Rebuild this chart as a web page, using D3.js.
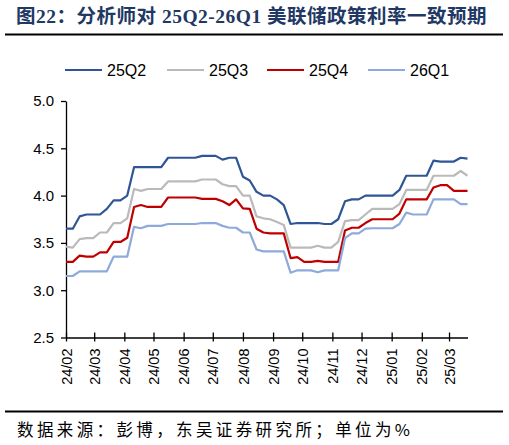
<!DOCTYPE html>
<html>
<head>
<meta charset="utf-8">
<script src="https://cdn.jsdelivr.net/npm/d3@7/dist/d3.min.js"></script>
<style>
  body { margin: 0; background: #fff; }
  svg { display: block; }
</style>
</head>
<body>
<svg id="chart" width="509" height="445"></svg>
<script>
var dates = [
  "2024-02-01", "2024-02-08", "2024-02-15", "2024-02-22", "2024-02-29",
  "2024-03-07", "2024-03-14", "2024-03-21", "2024-03-28",
  "2024-04-04", "2024-04-11", "2024-04-18", "2024-04-25",
  "2024-05-02", "2024-05-09", "2024-05-16", "2024-05-23", "2024-05-30",
  "2024-06-06", "2024-06-13", "2024-06-20", "2024-06-27",
  "2024-07-04", "2024-07-11", "2024-07-18", "2024-07-25",
  "2024-08-01", "2024-08-08", "2024-08-15", "2024-08-22", "2024-08-29",
  "2024-09-05", "2024-09-12", "2024-09-19", "2024-09-26",
  "2024-10-03", "2024-10-10", "2024-10-17", "2024-10-24", "2024-10-31",
  "2024-11-07", "2024-11-14", "2024-11-21", "2024-11-28",
  "2024-12-05", "2024-12-12", "2024-12-19", "2024-12-26",
  "2025-01-02", "2025-01-09", "2025-01-16", "2025-01-23", "2025-01-30",
  "2025-02-06", "2025-02-13", "2025-02-20", "2025-02-27",
  "2025-03-06", "2025-03-13", "2025-03-20"
];

var q2_25 = [
  3.65, 3.65, 3.78, 3.80, 3.80, 3.80, 3.86, 3.95, 3.95, 4.00,
  4.30, 4.30, 4.30, 4.30, 4.30, 4.40, 4.40, 4.40, 4.40, 4.40,
  4.42, 4.42, 4.42, 4.38, 4.40, 4.40, 4.20, 4.16, 4.04, 4.00,
  4.00, 3.96, 3.90, 3.70, 3.71, 3.71, 3.71, 3.71, 3.70, 3.70,
  3.75, 3.94, 3.96, 3.96, 4.00, 4.00, 4.00, 4.00, 4.00, 4.06,
  4.21, 4.21, 4.21, 4.21, 4.37, 4.36, 4.36, 4.36, 4.40, 4.39
];
var q3_25 = [
  3.46, 3.45, 3.54, 3.55, 3.55, 3.61, 3.61, 3.71, 3.71, 3.76,
  4.07, 4.05, 4.07, 4.07, 4.07, 4.15, 4.15, 4.15, 4.15, 4.15,
  4.17, 4.17, 4.17, 4.12, 4.10, 4.10, 4.00, 4.00, 3.78, 3.76,
  3.75, 3.72, 3.69, 3.45, 3.45, 3.45, 3.45, 3.47, 3.45, 3.45,
  3.51, 3.73, 3.74, 3.74, 3.80, 3.86, 3.86, 3.86, 3.86, 3.91,
  4.06, 4.06, 4.06, 4.06, 4.21, 4.21, 4.21, 4.21, 4.26, 4.21
];
var q4_25 = [
  3.30, 3.30, 3.365, 3.355, 3.355, 3.40, 3.40, 3.51, 3.51, 3.555,
  3.88, 3.90, 3.88, 3.88, 3.88, 3.98, 3.98, 3.98, 3.98, 3.98,
  3.965, 3.965, 3.965, 3.94, 3.90, 3.96, 3.865, 3.86, 3.65, 3.61,
  3.60, 3.60, 3.60, 3.34, 3.35, 3.30, 3.30, 3.31, 3.30, 3.30,
  3.30, 3.63, 3.66, 3.66, 3.71, 3.75, 3.75, 3.75, 3.75, 3.81,
  3.96, 3.96, 3.96, 3.96, 4.085, 4.11, 4.11, 4.05, 4.05, 4.05
];
var q1_26 = [
  3.15, 3.15, 3.20, 3.20, 3.20, 3.20, 3.20, 3.355, 3.355, 3.355,
  3.67, 3.655, 3.68, 3.68, 3.68, 3.70, 3.70, 3.70, 3.70, 3.70,
  3.71, 3.71, 3.71, 3.68, 3.66, 3.66, 3.61, 3.61, 3.43, 3.41,
  3.41, 3.41, 3.41, 3.185, 3.21, 3.21, 3.21, 3.19, 3.21, 3.21,
  3.21, 3.55, 3.60, 3.60, 3.65, 3.655, 3.655, 3.655, 3.655, 3.70,
  3.82, 3.80, 3.80, 3.80, 3.96, 3.96, 3.96, 3.96, 3.91, 3.91
];

var seriesNames = ["25Q2", "25Q3", "25Q4", "26Q1"];
var seriesColors = ["#2F5597", "#BABABA", "#C00000", "#8EAADB"];
var yTicks = [2.5, 3.0, 3.5, 4.0, 4.5, 5.0];

var svg = d3.select("#chart");
var parse = d3.timeParse("%Y-%m-%d");
var days = dates.map(parse);
var allSeries = [q2_25, q3_25, q4_25, q1_26];

var x = d3.scaleTime()
  .domain([days[0], days[days.length - 1]])
  .range([66, 467.5]);

var y = d3.scaleLinear()
  .domain([2.5, 5])
  .range([337.5, 101]);

// title + rules
svg.append("text")
  .attr("x", 16).attr("y", 22.5)
  .style("font-family", "'Liberation Serif', 'Noto Sans CJK SC', serif")
  .style("font-weight", "bold")
  .style("font-size", "19.5px")
  .style("letter-spacing", "0.5px")
  .style("fill", "#1F3864")
  .text("图22：分析师对 25Q2-26Q1 美联储政策利率一致预期");

svg.append("line")
  .attr("x1", 5).attr("x2", 503).attr("y1", 34.5).attr("y2", 34.5)
  .attr("stroke", "#000").attr("stroke-width", 2);

svg.append("line")
  .attr("x1", 5).attr("x2", 503).attr("y1", 411.5).attr("y2", 411.5)
  .attr("stroke", "#000").attr("stroke-width", 2);

svg.append("text")
  .attr("x", 17).attr("y", 436)
  .attr("textLength", 393).attr("lengthAdjust", "spacing")
  .style("font-family", "'Noto Sans CJK SC', sans-serif")
  .style("font-size", "16.5px")
  .style("fill", "#000")
  .text("数据来源：彭博，东吴证券研究所；单位为%");

// legend
var legendX = [65, 167, 267, 368];
var legend = svg.append("g");
seriesNames.forEach(function(name, i) {
  legend.append("line")
    .attr("x1", legendX[i]).attr("x2", legendX[i] + 37)
    .attr("y1", 70).attr("y2", 70)
    .attr("stroke", seriesColors[i]).attr("stroke-width", 2.2);
  legend.append("text")
    .attr("x", legendX[i] + 42).attr("y", 75.5)
    .style("font-family", "'Liberation Sans', Arial, sans-serif")
    .style("font-size", "16px")
    .style("fill", "#000")
    .text(name);
});

// axes
var yAxis = d3.axisLeft(y)
  .tickValues(yTicks)
  .tickFormat(d3.format(".1f"))
  .tickSizeOuter(0)
  .tickSizeInner(5)
  .tickPadding(7);

var gy = svg.append("g")
  .attr("transform", "translate(66,0)")
  .call(yAxis);
gy.select(".domain").attr("stroke", "#000").attr("stroke-width", 1.3);
gy.selectAll(".tick line").attr("stroke", "#000").attr("stroke-width", 1.3);
gy.selectAll("text")
  .style("font-family", "'Liberation Sans', Arial, sans-serif")
  .style("font-size", "15px")
  .style("fill", "#000");

var monthTicks = d3.timeMonth.range(new Date(2024, 1, 1), new Date(2025, 2, 2));
var xAxis = d3.axisBottom(x)
  .tickValues(monthTicks)
  .tickFormat(d3.timeFormat("%y/%m"))
  .tickSizeOuter(0)
  .tickSizeInner(0);

var gx = svg.append("g")
  .attr("transform", "translate(0,337.5)")
  .call(xAxis);
gx.select(".domain").attr("stroke", "#000").attr("stroke-width", 1.3);
// ticks cross the axis line
gx.selectAll(".tick line")
  .attr("y1", -5).attr("y2", 4)
  .attr("stroke", "#000").attr("stroke-width", 1.3);
gx.selectAll("text")
  .attr("transform", "rotate(-90)")
  .attr("x", -11).attr("y", 0).attr("dy", "0.35em")
  .style("text-anchor", "end")
  .style("font-family", "'Liberation Sans', Arial, sans-serif")
  .style("font-size", "14.5px")
  .style("fill", "#000");

// lines
var line = d3.line()
  .x(function(d, i) { return x(days[i]); })
  .y(function(d) { return y(d); });

allSeries.forEach(function(vals, i) {
  svg.append("path")
    .datum(vals)
    .attr("d", line)
    .attr("fill", "none")
    .attr("stroke", seriesColors[i])
    .attr("stroke-width", 2.2)
    .attr("stroke-linejoin", "round");
});
</script>
</body>
</html>
